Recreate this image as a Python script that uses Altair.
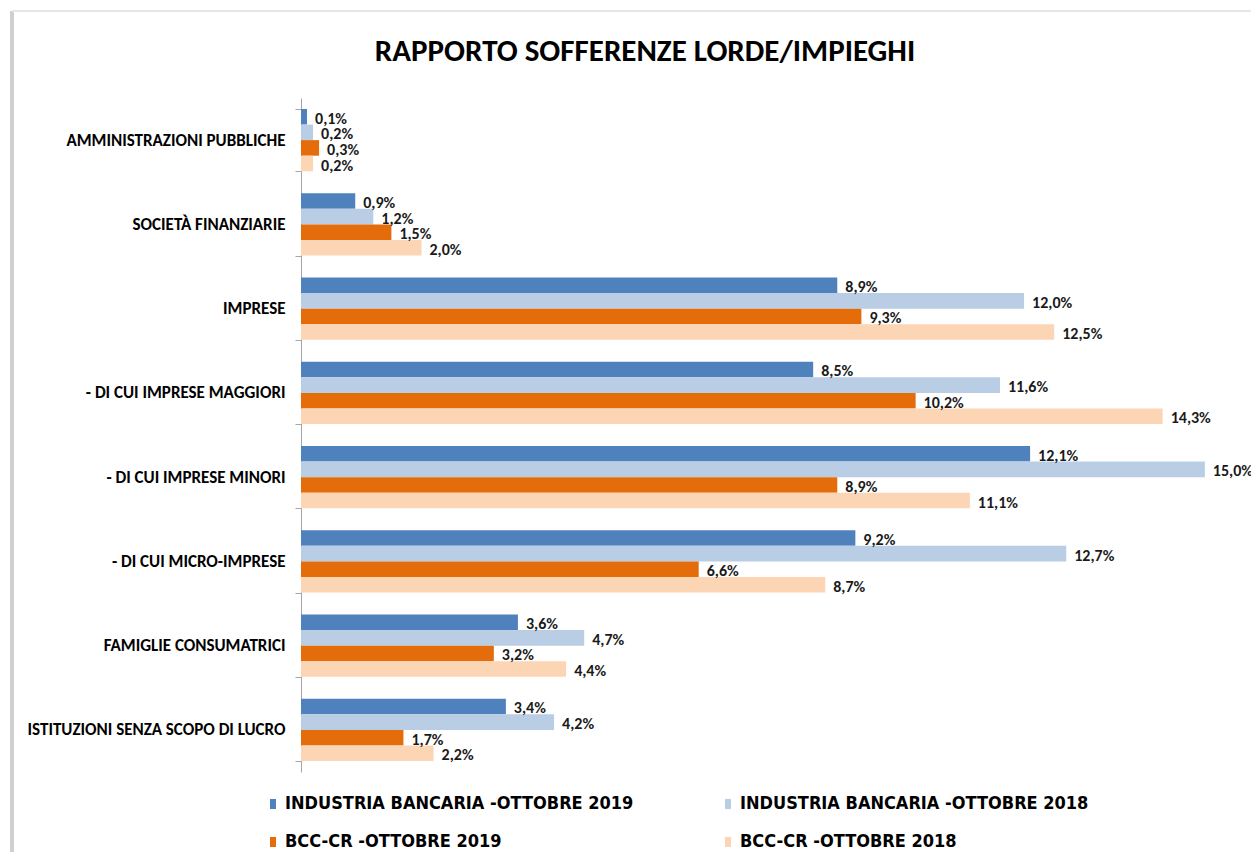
import altair as alt
import pandas as pd

categories = [
    "AMMINISTRAZIONI PUBBLICHE",
    "SOCIETÀ FINANZIARIE",
    "IMPRESE",
    "- DI CUI IMPRESE MAGGIORI",
    "- DI CUI IMPRESE MINORI",
    "- DI CUI MICRO-IMPRESE",
    "FAMIGLIE CONSUMATRICI",
    "ISTITUZIONI SENZA SCOPO DI LUCRO",
]
series = [
    "INDUSTRIA BANCARIA -OTTOBRE 2019",
    "INDUSTRIA BANCARIA -OTTOBRE 2018",
    "BCC-CR -OTTOBRE 2019",
    "BCC-CR -OTTOBRE 2018",
]
ib_2019 = [0.1, 0.9, 8.9, 8.5, 12.1, 9.2, 3.6, 3.4]
ib_2018 = [0.2, 1.2, 12.0, 11.6, 15.0, 12.7, 4.7, 4.2]
bcc_2019 = [0.3, 1.5, 9.3, 10.2, 8.9, 6.6, 3.2, 1.7]
bcc_2018 = [0.2, 2.0, 12.5, 14.3, 11.1, 8.7, 4.4, 2.2]
colors = ["#4F81BD", "#B9CDE5", "#E46C0A", "#FCD5B5"]

rows = []
for s, vals in zip(series, [ib_2019, ib_2018, bcc_2019, bcc_2018]):
    for c, v in zip(categories, vals):
        rows.append({"categoria": c, "serie": s, "valore": v})
df = pd.DataFrame(rows)

FONT_NARROW = "Liberation Sans Narrow, Arial Narrow, DejaVu Sans Condensed, sans-serif"
FONT_CAL = "Carlito, Calibri, Liberation Sans Narrow, DejaVu Sans Condensed, sans-serif"

y_enc = alt.Y(
    "categoria:N",
    sort=categories,
    scale=alt.Scale(paddingInner=0.26, paddingOuter=0.13),
    axis=alt.Axis(
        title=None,
        labelFont=FONT_CAL,
        labelFontSize=17,
        labelFontWeight="bold",
        labelColor="#000000",
        labelPadding=10,
        labelLimit=400,
        tickBand="extent",
        tickSize=6,
        tickColor="#a6a6a6",
        domainColor="#a6a6a6",
        grid=False,
    ),
)
x_enc = alt.X("valore:Q", scale=alt.Scale(domain=[0, 15.6], nice=False), axis=None)
yoff = alt.YOffset("serie:N", sort=series, scale=alt.Scale(paddingInner=0, paddingOuter=0))

bars = alt.Chart(df).mark_bar(opacity=1).encode(
    y=y_enc,
    x=x_enc,
    yOffset=yoff,
    color=alt.Color(
        "serie:N",
        sort=series,
        scale=alt.Scale(domain=series, range=colors),
        legend=alt.Legend(
            title=None,
            orient="none",
            direction="horizontal",
            legendX=-37,
            legendY=697,
            columns=2,
            columnPadding=85,
            rowPadding=20,
            labelFont=FONT_NARROW,
            labelFontSize=18,
            labelFontWeight="bold",
            labelColor="#000000",
            labelLimit=600,
            labelOffset=3,
            symbolType="M-0.6,-1H0.6V1H-0.6Z",
            symbolSize=100,
            symbolStrokeWidth=0,
            symbolOpacity=1,
        ),
    ),
)

labels = alt.Chart(df).transform_calculate(
    lab="replace(format(datum.valore, '.1f'), '.', ',') + '%'"
).mark_text(
    align="left", baseline="middle", dx=8, dy=2,
    font=FONT_CAL, fontSize=16, fontWeight="bold", color="#1a1a1a",
).encode(
    y=alt.Y("categoria:N", sort=categories),
    x=x_enc,
    yOffset=yoff,
    text="lab:N",
)

frame_left = alt.Chart(df).mark_rule(color="#cfcfcf", strokeWidth=3).encode(
    x=alt.value(-289), y=alt.value(-87), y2=alt.value(800)
)
frame_top = alt.Chart(df).mark_rule(color="#e6e6e6", strokeWidth=2).encode(
    x=alt.value(-289), x2=alt.value(960), y=alt.value(-87)
)

chart = alt.layer(frame_left, frame_top, bars, labels).properties(
    width=940,
    height=674,
    background="white",
    autosize=alt.AutoSizeParams(type="none"),
    padding={"left": 293, "top": 90, "right": 10, "bottom": 80},
    title=alt.TitleParams(
        "RAPPORTO SOFFERENZE LORDE/IMPIEGHI",
        font=FONT_CAL,
        fontSize=31,
        fontWeight="bold",
        color="#000000",
        anchor="middle",
        frame="group",
        baseline="alphabetic",
        dx=-126,
        offset=0,
        dy=82,
    ),
).configure_view(stroke="transparent", strokeWidth=0)

chart.save("out.html", embed_options={"renderer": "svg", "actions": False})
